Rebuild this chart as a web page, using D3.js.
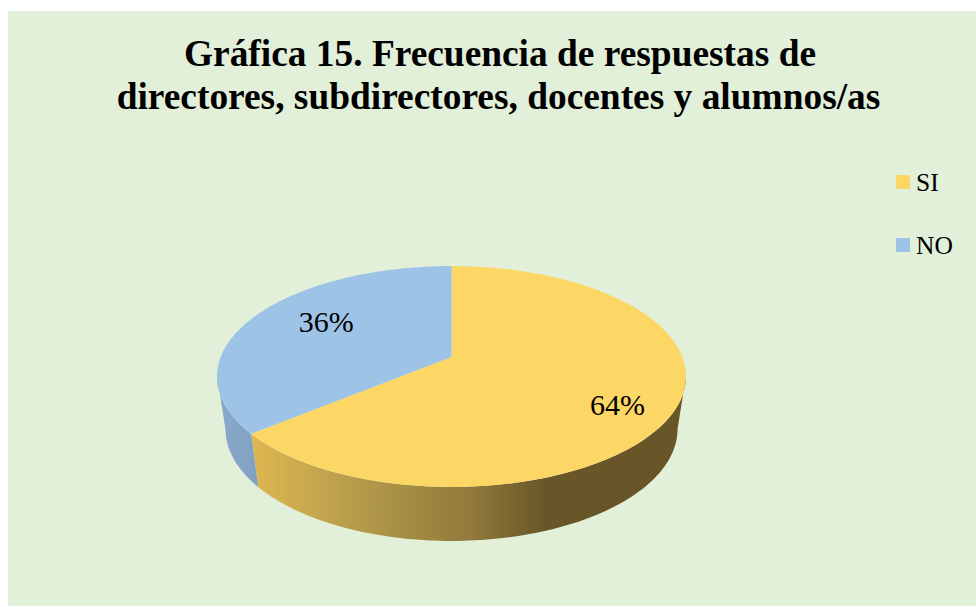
<!DOCTYPE html>
<html>
<head>
<meta charset="utf-8">
<script src="https://cdn.jsdelivr.net/npm/d3@7"></script>
<style>
  html, body { margin: 0; padding: 0; background: #fff; }
  svg { display: block; }
  text { font-family: "Liberation Serif", serif; fill: #000; }
</style>
</head>
<body>
<script>
var titleLines = ["Gráfica 15. Frecuencia de respuestas de", "directores, subdirectores, docentes y alumnos/as"];
var categories = ["SI", "NO"];
var values = [64, 36];

var width = 976, height = 607;
var color = d3.scaleOrdinal().domain(categories).range(["#FCD765", "#9DC3E6"]);

var svg = d3.select("body").append("svg").attr("width", width).attr("height", height);

svg.append("rect").attr("x", 8).attr("y", 11).attr("width", width - 8).attr("height", 595).attr("fill", "#E2EFD9");

svg.selectAll(".title").data(titleLines).enter().append("text").attr("class", "title")
  .attr("x", function(d, i) { return i == 0 ? 500 : 498.5; })
  .attr("y", function(d, i) { return 65.5 + i * 43; })
  .attr("text-anchor", "middle")
  .style("font-size", "37.4px").style("font-weight", "bold")
  .text(function(d) { return d; });

// the disc is drawn with a small perspective, that is why the apex sits above the ellipse centre
var k = 0.1765;
function project(disc, r, a) {
  var u = r * Math.sin(a), v = -r * Math.cos(a), w = 1 - k * v;
  return [disc.cx + disc.c * u / w, disc.cy + disc.a * v / w];
}
var topDisc = {cx: 451.5, cy: 357, c: 230.8, a: 107};
var lowDisc = {cx: 451.5, cy: 409.2, c: 222.5, a: 108.5};

var pie = d3.pie().sort(null).value(function(d) { return d.value; });
var slices = pie(categories.map(function(c, i) { return {name: c, value: values[i]}; }));
var line = d3.line();

function rim(disc, a0, a1) {
  return d3.range(0, 121).map(function(i) {
    return project(disc, 1, a0 + (a1 - a0) * i / 120);
  });
}

var defs = svg.append("defs");
var siGrad = defs.append("linearGradient").attr("id", "sideSI").attr("gradientUnits", "userSpaceOnUse")
  .attr("x1", 254).attr("x2", 686).attr("y1", 0).attr("y2", 0);
[[0, "#DDB751"], [0.25, "#B39A4A"], [0.5, "#917A3B"], [0.68, "#685528"], [1, "#685528"]].forEach(function(s) {
  siGrad.append("stop").attr("offset", s[0]).attr("stop-color", s[1]);
});
var noGrad = defs.append("linearGradient").attr("id", "sideNO").attr("gradientUnits", "userSpaceOnUse")
  .attr("x1", 217).attr("x2", 260).attr("y1", 0).attr("y2", 0);
noGrad.append("stop").attr("offset", 0).attr("stop-color", "#8AAACB");
noGrad.append("stop").attr("offset", 1).attr("stop-color", "#80A0C0");

// outer wall runs between the two points where the rim is widest
var wallFrom = Math.acos(-k), wallTo = 2 * Math.PI - wallFrom;
var sides = slices.map(function(s) {
  return {
    name: s.data.name,
    a0: Math.max(s.startAngle, wallFrom),
    a1: Math.min(s.endAngle, wallTo)
  };
});
svg.selectAll(".side").data(sides).enter().append("path").attr("class", "side")
  .attr("d", function(d) {
    return line(rim(topDisc, d.a0, d.a1).concat(rim(lowDisc, d.a0, d.a1).reverse())) + "Z";
  })
  .attr("fill", function(d) { return "url(#side" + d.name + ")"; });

svg.selectAll(".slice").data(slices).enter().append("path").attr("class", "slice")
  .attr("d", function(d) {
    return line([[topDisc.cx, topDisc.cy]].concat(rim(topDisc, d.startAngle, d.endAngle))) + "Z";
  })
  .attr("fill", function(d) { return color(d.data.name); });

// labels sit near 3/4 of the radius, then moved by hand
var nudge = {SI: [0, 22], NO: [23, 7]};
svg.selectAll(".lab").data(slices).enter().append("text").attr("class", "lab")
  .attr("transform", function(d) {
    var p = project(topDisc, 0.75, (d.startAngle + d.endAngle) / 2), n = nudge[d.data.name];
    return "translate(" + (p[0] + n[0]) + "," + (p[1] + n[1]) + ")";
  })
  .attr("text-anchor", "middle")
  .style("font-size", "30px")
  .text(function(d) { return d.data.value + "%"; });

var legend = svg.selectAll(".leg").data(categories).enter().append("g").attr("class", "leg")
  .attr("transform", function(d, i) { return "translate(896," + (175 + i * 63) + ")"; });
legend.append("rect").attr("width", 14).attr("height", 14).attr("fill", function(d) { return color(d); });
legend.append("text").attr("x", 20).attr("y", 16).style("font-size", "25.5px").text(function(d) { return d; });
</script>
</body>
</html>
